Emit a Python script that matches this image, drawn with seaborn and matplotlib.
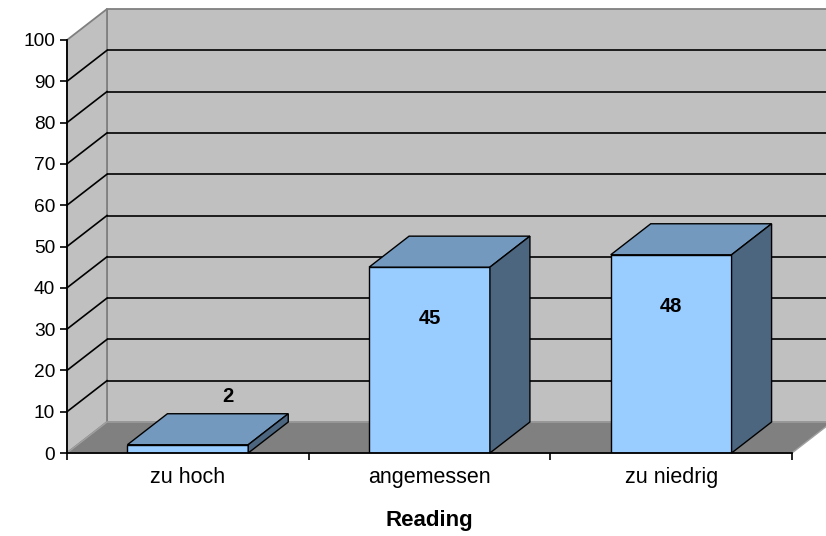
import matplotlib
matplotlib.use("Agg")
import matplotlib.pyplot as plt
import seaborn as sns
from matplotlib.patches import Polygon, Rectangle

categories = ["zu hoch", "angemessen", "zu niedrig"]
values = [2, 45, 48]
y_ticks = [0, 10, 20, 30, 40, 50, 60, 70, 80, 90, 100]
x_title = "Reading"

plt.rcParams['font.family'] = ['Liberation Sans', 'DejaVu Sans']

W, H = 826, 536
fig = plt.figure(figsize=(W / 100, H / 100), dpi=100)
ax = fig.add_axes([67 / W, (H - 453) / H, 725 / W, 413 / H])
ax.patch.set_visible(False)

# depth offset of the 3D look (in data units)
DX = 40 / (725 / 3)
DY = 31 / 4.13

WALL = '#C0C0C0'
EDGE = '#808080'

# back wall, left wall, floor
ax.add_patch(Rectangle((-0.5 + DX, DY), 3, 100, fc=WALL, ec=EDGE, lw=1.3,
                       clip_on=False, zorder=0))
ax.add_patch(Polygon([(-0.5, 0), (-0.5, 100), (-0.5 + DX, 100 + DY), (-0.5 + DX, DY)],
                     closed=True, fc=WALL, ec=EDGE, lw=1.3, clip_on=False, zorder=0))
ax.add_patch(Polygon([(-0.5, 0), (2.5, 0), (2.5 + DX, DY), (-0.5 + DX, DY)],
                     closed=True, fc=EDGE, ec='#A0A0A0', lw=1.0, clip_on=False, zorder=0.5))

# gridlines on back wall and left wall
for v in y_ticks[1:-1]:
    ax.plot([-0.5 + DX, 2.5 + DX], [v + DY, v + DY], color='black', lw=1.2,
            clip_on=False, zorder=1, solid_capstyle='butt')
    ax.plot([-0.5, -0.5 + DX], [v, v + DY], color='black', lw=1.2,
            clip_on=False, zorder=1)

# front faces of the bars
sns.barplot(x=categories, y=values, color='#99CCFF', saturation=1, width=0.5,
            edgecolor='black', linewidth=1.0, ax=ax, zorder=5)

TOP = '#7399BF'
SIDE = '#4D6680'
bars = [p for p in ax.patches if isinstance(p, Rectangle) and p.get_zorder() == 5]
for p, v in zip(bars, values):
    x0 = p.get_x()
    x1 = x0 + p.get_width()
    h = p.get_height()
    ax.add_patch(Polygon([(x0, h), (x1, h), (x1 + DX, h + DY), (x0 + DX, h + DY)],
                         closed=True, fc=TOP, ec='black', lw=1.0, clip_on=False, zorder=5))
    ax.add_patch(Polygon([(x1, 0), (x1, h), (x1 + DX, h + DY), (x1 + DX, DY)],
                         closed=True, fc=SIDE, ec='black', lw=1.0, clip_on=False, zorder=5))
    cx = x0 + p.get_width() / 2
    if v < 10:
        ax.text(cx + DX, h + DY + 4.1, str(v), ha='center', va='center',
                fontsize=14.5, fontweight='bold', zorder=6)
    else:
        ax.text(cx, h - 12.5, str(v), ha='center', va='center',
                fontsize=14.5, fontweight='bold', zorder=6)

ax.set_xlim(-0.5, 2.5)
ax.set_ylim(0, 100)
ax.set_yticks(y_ticks)
ax.set_yticklabels([str(t) for t in y_ticks])
ax.set_xticks([0, 1, 2])
ax.set_xticklabels(categories)
ax.set_xticks([-0.5, 0.5, 1.5, 2.5], minor=True)

for s in ['top', 'right']:
    ax.spines[s].set_visible(False)
for s in ['left', 'bottom']:
    ax.spines[s].set_color('black')
    ax.spines[s].set_linewidth(1.3)
    ax.spines[s].set_zorder(7)

ax.tick_params(axis='y', direction='out', length=5, width=1.2, pad=3.5,
               labelsize=13.8, colors='black')
ax.tick_params(axis='x', which='major', length=0, pad=10, labelsize=15.5)
ax.tick_params(axis='x', which='minor', direction='out', length=5, width=1.2)
ax.set_xlabel(x_title, fontsize=16, fontweight='bold', labelpad=16)
ax.set_ylabel('')

fig.savefig('out.png', dpi=100)
